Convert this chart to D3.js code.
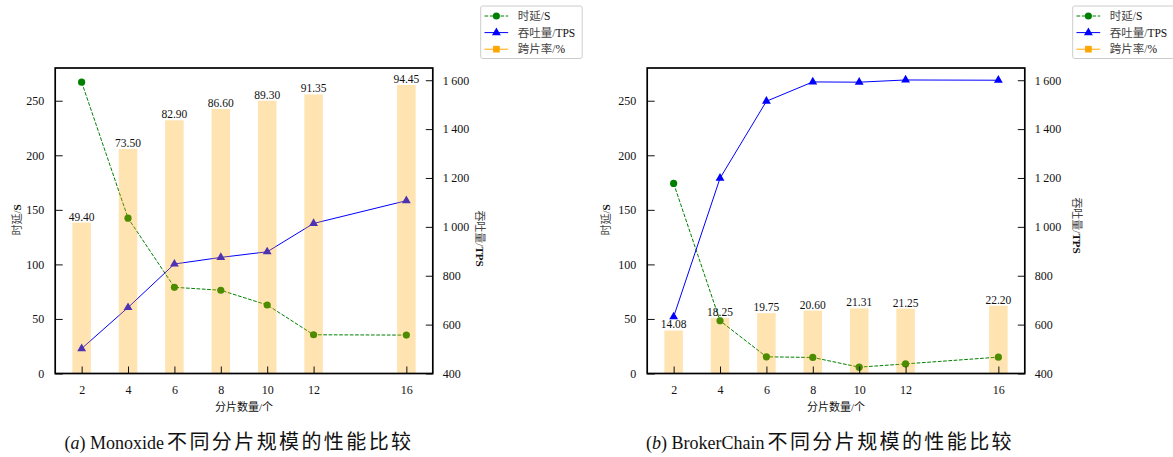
<!DOCTYPE html>
<html>
<head>
<meta charset="utf-8">
<title>不同分片规模的性能比较</title>
<script src="https://d3js.org/d3.v7.min.js"></script>
<style>
  body { margin: 0; background: #fff; }
  svg text { font-family: "Liberation Serif", "Noto Sans CJK SC", serif; fill: #111; }
</style>
</head>
<body>
<svg id="chart" width="1173" height="457"></svg>
<script>
// values
const shards = [2, 4, 6, 8, 10, 12, 16];
const monoLatency = [267, 142.4, 79, 76.3, 62.8, 35.5, 35.2];
const monoTps = [502, 670, 848, 875, 898, 1014, 1107];
const monoCross = [49.40, 73.50, 82.90, 86.60, 89.30, 91.35, 94.45];
const brokerLatency = [174.2, 48.3, 15.3, 14.7, 5.8, 8.8, 15];
const brokerTps = [632, 1199, 1514, 1593, 1592, 1601, 1600];
const brokerCross = [14.08, 18.25, 19.75, 20.60, 21.31, 21.25, 22.20];
const latencyTicks = [0, 50, 100, 150, 200, 250];
const tpsTicks = [400, 600, 800, 1000, 1200, 1400, 1600];
const legendNames = [["时延/", "S"], ["吞吐量/", "TPS"], ["跨片率/", "%"]];

const svg = d3.select("#chart");
const green = "#008000", blue = "#0000ff", orange = "#ffa500";

// plot box (panel a coordinates, panel b is shifted)
const L = 55.2, R = 432.8, T = 68, B = 373.5;

function drawPanel(p) {
  const g = svg.append("g").attr("transform", `translate(${p.dx},0)`);

  const x = d3.scaleLinear().domain([0.86, 17.14]).range([L, R]);
  const yL = d3.scaleLinear().domain([0, 280]).range([B, T]);
  const yR = d3.scaleLinear().domain([400, 1650]).range([B, T]);
  const yP = d3.scaleLinear().domain([0, 100]).range([B, T]);
  const barW = x(0.8) - x(0);

  // latency
  g.append("path")
    .datum(shards.map((s, i) => [s, p.latency[i]]))
    .attr("fill", "none").attr("stroke", green).attr("stroke-width", 1)
    .attr("stroke-dasharray", "3.7,1.6")
    .attr("d", d3.line().x(d => x(d[0])).y(d => yL(d[1])));
  g.selectAll(".lat").data(p.latency).enter().append("circle")
    .attr("cx", (d, i) => x(shards[i])).attr("cy", d => yL(d))
    .attr("r", 3.6).attr("fill", green);

  // throughput
  g.append("path")
    .datum(shards.map((s, i) => [s, p.tps[i]]))
    .attr("fill", "none").attr("stroke", blue).attr("stroke-width", 1)
    .attr("d", d3.line().x(d => x(d[0])).y(d => yR(d[1])));
  g.selectAll(".tps").data(p.tps).enter().append("path")
    .attr("transform", (d, i) => `translate(${x(shards[i])},${yR(d)})`)
    .attr("d", d3.symbol().type(d3.symbolTriangle).size(34))
    .attr("fill", blue);

  // cross-shard ratio bars, semi transparent on top
  g.selectAll(".bar").data(p.cross).enter().append("rect")
    .attr("x", (d, i) => x(shards[i]) - barW / 2)
    .attr("width", barW)
    .attr("y", d => yP(d))
    .attr("height", d => B - yP(d))
    .attr("fill", orange).attr("fill-opacity", 0.3);
  g.selectAll(".barlab").data(p.cross).enter().append("text")
    .attr("x", (d, i) => x(shards[i])).attr("y", d => yP(d) - 2)
    .attr("text-anchor", "middle").style("font-size", "11.5px")
    .text(d => d.toFixed(2));

  // axes
  const ax = [
    g.append("g").attr("transform", `translate(${L},0)`)
      .call(d3.axisLeft(yL).tickValues(latencyTicks).tickSizeInner(-7.5).tickSizeOuter(0).tickPadding(11)),
    g.append("g").attr("transform", `translate(${R},0)`)
      .call(d3.axisRight(yR).tickValues(tpsTicks).tickSizeInner(-7).tickSizeOuter(0).tickPadding(10)
        .tickFormat(d => d >= 1000 ? Math.floor(d / 1000) + "\u2009" + String(d % 1000).padStart(3, "0") : d)),
    g.append("g").attr("transform", `translate(0,${B})`)
      .call(d3.axisBottom(x).tickValues(shards).tickSizeInner(-7).tickSizeOuter(0).tickPadding(11.5))
  ];
  ax.forEach(a => {
    a.select(".domain").remove();
    a.selectAll("text").style("font-size", "12px").attr("fill", "#111");
    a.selectAll("line").attr("stroke", "#111");
  });

  g.append("rect").attr("x", L).attr("y", T).attr("width", R - L).attr("height", B - T)
    .attr("fill", "none").attr("stroke", "#000").attr("stroke-width", 1.7);

  // axis titles
  const lt = g.append("text")
    .attr("transform", `translate(${p.leftLab[0]},${p.leftLab[1]}) rotate(-90)`)
    .attr("text-anchor", "middle").attr("dy", "0.35em").style("font-size", "11px");
  lt.append("tspan").attr("fill", "#444").text("时延/");
  lt.append("tspan").attr("font-weight", "bold").text("S");

  const rt = g.append("text")
    .attr("transform", `translate(${p.rightLab[0]},${p.rightLab[1]}) rotate(90)`)
    .attr("text-anchor", "middle").attr("dy", "0.35em").style("font-size", "11px");
  rt.append("tspan").attr("fill", "#444").text("吞吐量/");
  rt.append("tspan").attr("font-weight", "bold").text("TPS");

  g.append("text").attr("x", (L + R) / 2).attr("y", 411)
    .attr("text-anchor", "middle").style("font-size", "11px").attr("fill", "#333")
    .text("分片数量/个");

  // caption: latin part a bit smaller than the CJK part
  const cap = g.append("text").attr("x", p.capX).attr("y", 448.5)
    .attr("text-anchor", "middle").attr("fill", "#222");
  cap.append("tspan").style("font-size", "18px").text("(");
  cap.append("tspan").style("font-size", "18px").attr("font-style", "italic").text(p.tag);
  cap.append("tspan").style("font-size", "18px").text(") " + p.name);
  cap.append("tspan").style("font-size", "20px").style("letter-spacing", "2.4px")
    .attr("dx", 3).text("不同分片规模的性能比较");

  // legend
  const lg = g.append("g").attr("transform", "translate(480.7,6)");
  lg.append("rect").attr("width", 101.5).attr("height", 52.5).attr("rx", 2)
    .attr("fill", "#fff").attr("stroke", "#ccc").attr("stroke-width", 1);
  const colors = [green, blue, orange];
  legendNames.forEach((n, i) => {
    const yy = 10 + i * 16.6;
    lg.append("line").attr("x1", 3.8).attr("x2", 27.5).attr("y1", yy).attr("y2", yy)
      .attr("stroke", colors[i]).attr("stroke-width", 1)
      .attr("stroke-dasharray", i === 0 ? "3.7,1.6" : null);
    const sym = [d3.symbolCircle, d3.symbolTriangle, d3.symbolSquare][i];
    lg.append("path").attr("transform", `translate(15.7,${yy})`)
      .attr("d", d3.symbol().type(sym).size([40, 34, 44][i])).attr("fill", colors[i]);
    const t = lg.append("text").attr("x", 37).attr("y", yy).attr("dy", "0.35em")
      .style("font-size", "11.5px");
    t.append("tspan").attr("fill", "#444").text(n[0]);
    t.append("tspan").text(n[1]);
  });
}

drawPanel({ dx: 0, latency: monoLatency, tps: monoTps, cross: monoCross,
  tag: "a", name: "Monoxide", leftLab: [17, 220], rightLab: [480, 238.5], capX: 239 });
drawPanel({ dx: 592, latency: brokerLatency, tps: brokerTps, cross: brokerCross,
  tag: "b", name: "BrokerChain", leftLab: [14.5, 220], rightLab: [485, 225.5], capX: 238 });
</script>
</body>
</html>
